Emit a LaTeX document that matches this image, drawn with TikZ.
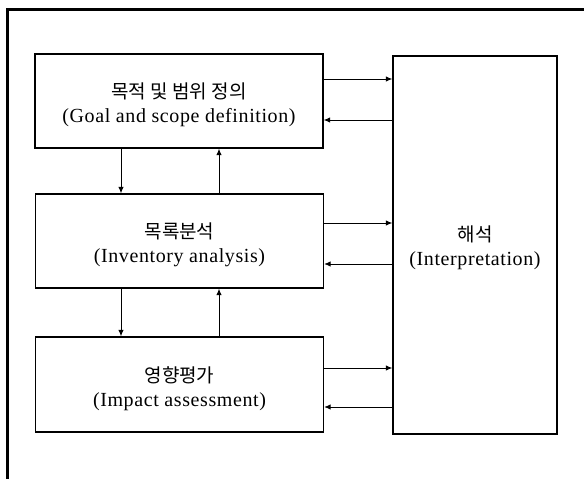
\documentclass[tikz,border=0pt]{standalone}
\usepackage{fontspec}
\setmainfont{Liberation Serif}[LetterSpace=3]
\newfontfamily\kor{Noto Sans CJK KR}[Scale=0.95]
\usetikzlibrary{arrows.meta}
\tikzset{
  box/.style={draw, line width=1.3pt, rectangle, inner sep=0pt},
  lbl/.style={align=center, font=\fontsize{20}{24}\selectfont, inner sep=0pt},
  conn/.style={line width=1pt, -{Latex[length=6.5pt,width=5.5pt]}},
}
\begin{document}
\begin{tikzpicture}[x=1pt,y=-1pt]
\useasboundingbox (0,0) rectangle (584,479);
\clip (0,0) rectangle (584,479);
\fill[white] (0,0) rectangle (584,479);
\draw[line width=3pt] (7.5,9.5) rectangle (640,540);
\node[box, minimum width=288pt, minimum height=94pt] (b1) at (179,101) {};
\node[box, minimum width=288pt, minimum height=94pt] (b2) at (179.5,241) {};
\node[box, minimum width=288pt, minimum height=95pt] (b3) at (179.5,384.5) {};
\node[box, minimum width=164pt, minimum height=378pt] (ip) at (475,245) {};
\node[lbl] (t1) at ([yshift=-4pt]b1.center) {{\kor 목적 및 범위 정의}\\(Goal and scope definition)};
\node[lbl] (t2) at ([yshift=-4pt]b2.center) {{\kor 목록분석}\\(Inventory analysis)};
\node[lbl] (t3) at ([yshift=-4pt]b3.center) {{\kor 영향평가}\\(Impact assessment)};
\node[lbl] (t4) at ([yshift=-3pt]ip.center) {{\kor 해석}\\(Interpretation)};
% horizontal
\draw[conn] (b1.east |- 0,79) -- (ip.west |- 0,79);
\draw[conn] (ip.west |- 0,120) -- (b1.east |- 0,120);
\draw[conn] (b2.east |- 0,223) -- (ip.west |- 0,223);
\draw[conn] (ip.west |- 0,264) -- (b2.east |- 0,264);
\draw[conn] (b3.east |- 0,368) -- (ip.west |- 0,368);
\draw[conn] (ip.west |- 0,407) -- (b3.east |- 0,407);
% vertical
\draw[conn] (b1.south -| 121,0) -- (b2.north -| 121,0);
\draw[conn] (b2.north -| 219,0) -- (b1.south -| 219,0);
\draw[conn] (b2.south -| 121,0) -- (b3.north -| 121,0);
\draw[conn] (b3.north -| 219,0) -- (b2.south -| 219,0);
\end{tikzpicture}
\end{document}
